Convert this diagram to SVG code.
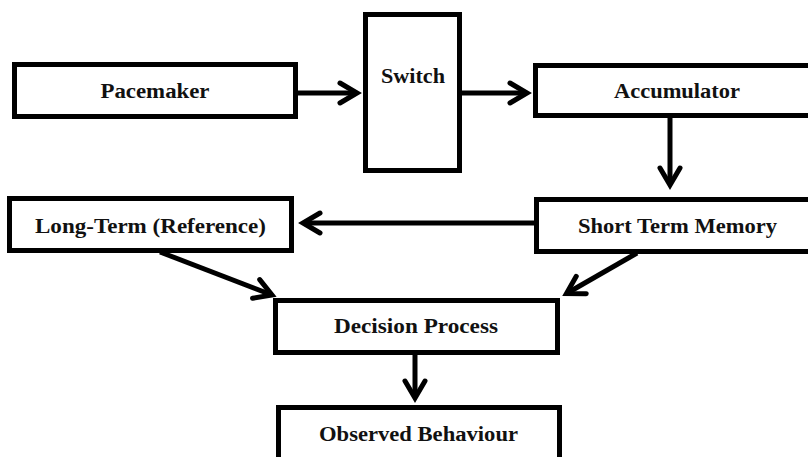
<svg xmlns="http://www.w3.org/2000/svg" width="808" height="457" viewBox="0 0 808 457">
  <style>
    .box { fill: #ffffff; stroke: #000000; stroke-width: 5; }
    .lbl { font-family: "Liberation Serif", "DejaVu Serif", serif; font-weight: bold; font-size: 20px; fill: #111111; text-anchor: middle; }
    .link { fill: none; stroke: #000000; stroke-width: 5; marker-end: url(#chevron); }
  </style>
  <defs>
    <marker id="chevron" markerUnits="userSpaceOnUse" viewBox="-25 -15 30 30" refX="0" refY="0" markerWidth="30" markerHeight="30" orient="auto" overflow="visible">
      <path d="M-17,-10 L0,0 L-17,10" fill="none" stroke="#000000" stroke-width="5" stroke-linejoin="miter" stroke-linecap="round"/>
    </marker>
  </defs>
  <rect width="808" height="457" fill="#ffffff"/>

  <g id="connectors">
    <line class="link" x1="298" y1="93" x2="357" y2="93"/>
    <line class="link" x1="462" y1="93" x2="527" y2="93"/>
    <line class="link" x1="670" y1="118" x2="670" y2="185"/>
    <line class="link" x1="534" y1="223" x2="303" y2="223"/>
    <line class="link" x1="160" y1="252" x2="272" y2="295"/>
    <line class="link" x1="637" y1="253" x2="566.5" y2="293.5"/>
    <line class="link" x1="415" y1="355" x2="415" y2="398"/>
  </g>

  <g id="pacemaker">
    <rect class="box" x="14.5" y="64.5" width="281" height="52"/>
    <text class="lbl" x="155" y="98" textLength="109" lengthAdjust="spacingAndGlyphs">Pacemaker</text>
  </g>
  <g id="switch">
    <rect class="box" x="365.5" y="14.5" width="94" height="156"/>
    <text class="lbl" x="413" y="83" textLength="64" lengthAdjust="spacingAndGlyphs">Switch</text>
  </g>
  <g id="accumulator">
    <rect class="box" x="535.5" y="65.5" width="290" height="50"/>
    <text class="lbl" x="677" y="98" textLength="126" lengthAdjust="spacingAndGlyphs">Accumulator</text>
  </g>
  <g id="short-term-memory">
    <rect class="box" x="536.5" y="199.5" width="290" height="52"/>
    <text class="lbl" x="677.5" y="233" textLength="199" lengthAdjust="spacingAndGlyphs">Short Term Memory</text>
  </g>
  <g id="long-term-reference">
    <rect class="box" x="9.5" y="198.5" width="282" height="52"/>
    <text class="lbl" x="150.5" y="233" textLength="231" lengthAdjust="spacingAndGlyphs">Long-Term (Reference)</text>
  </g>
  <g id="decision-process">
    <rect class="box" x="275.5" y="300.5" width="282" height="52"/>
    <text class="lbl" x="416" y="333" textLength="164" lengthAdjust="spacingAndGlyphs">Decision Process</text>
  </g>
  <g id="observed-behaviour">
    <rect class="box" x="278.5" y="407.5" width="281" height="60"/>
    <text class="lbl" x="418.5" y="441" textLength="199" lengthAdjust="spacingAndGlyphs">Observed Behaviour</text>
  </g>
</svg>
